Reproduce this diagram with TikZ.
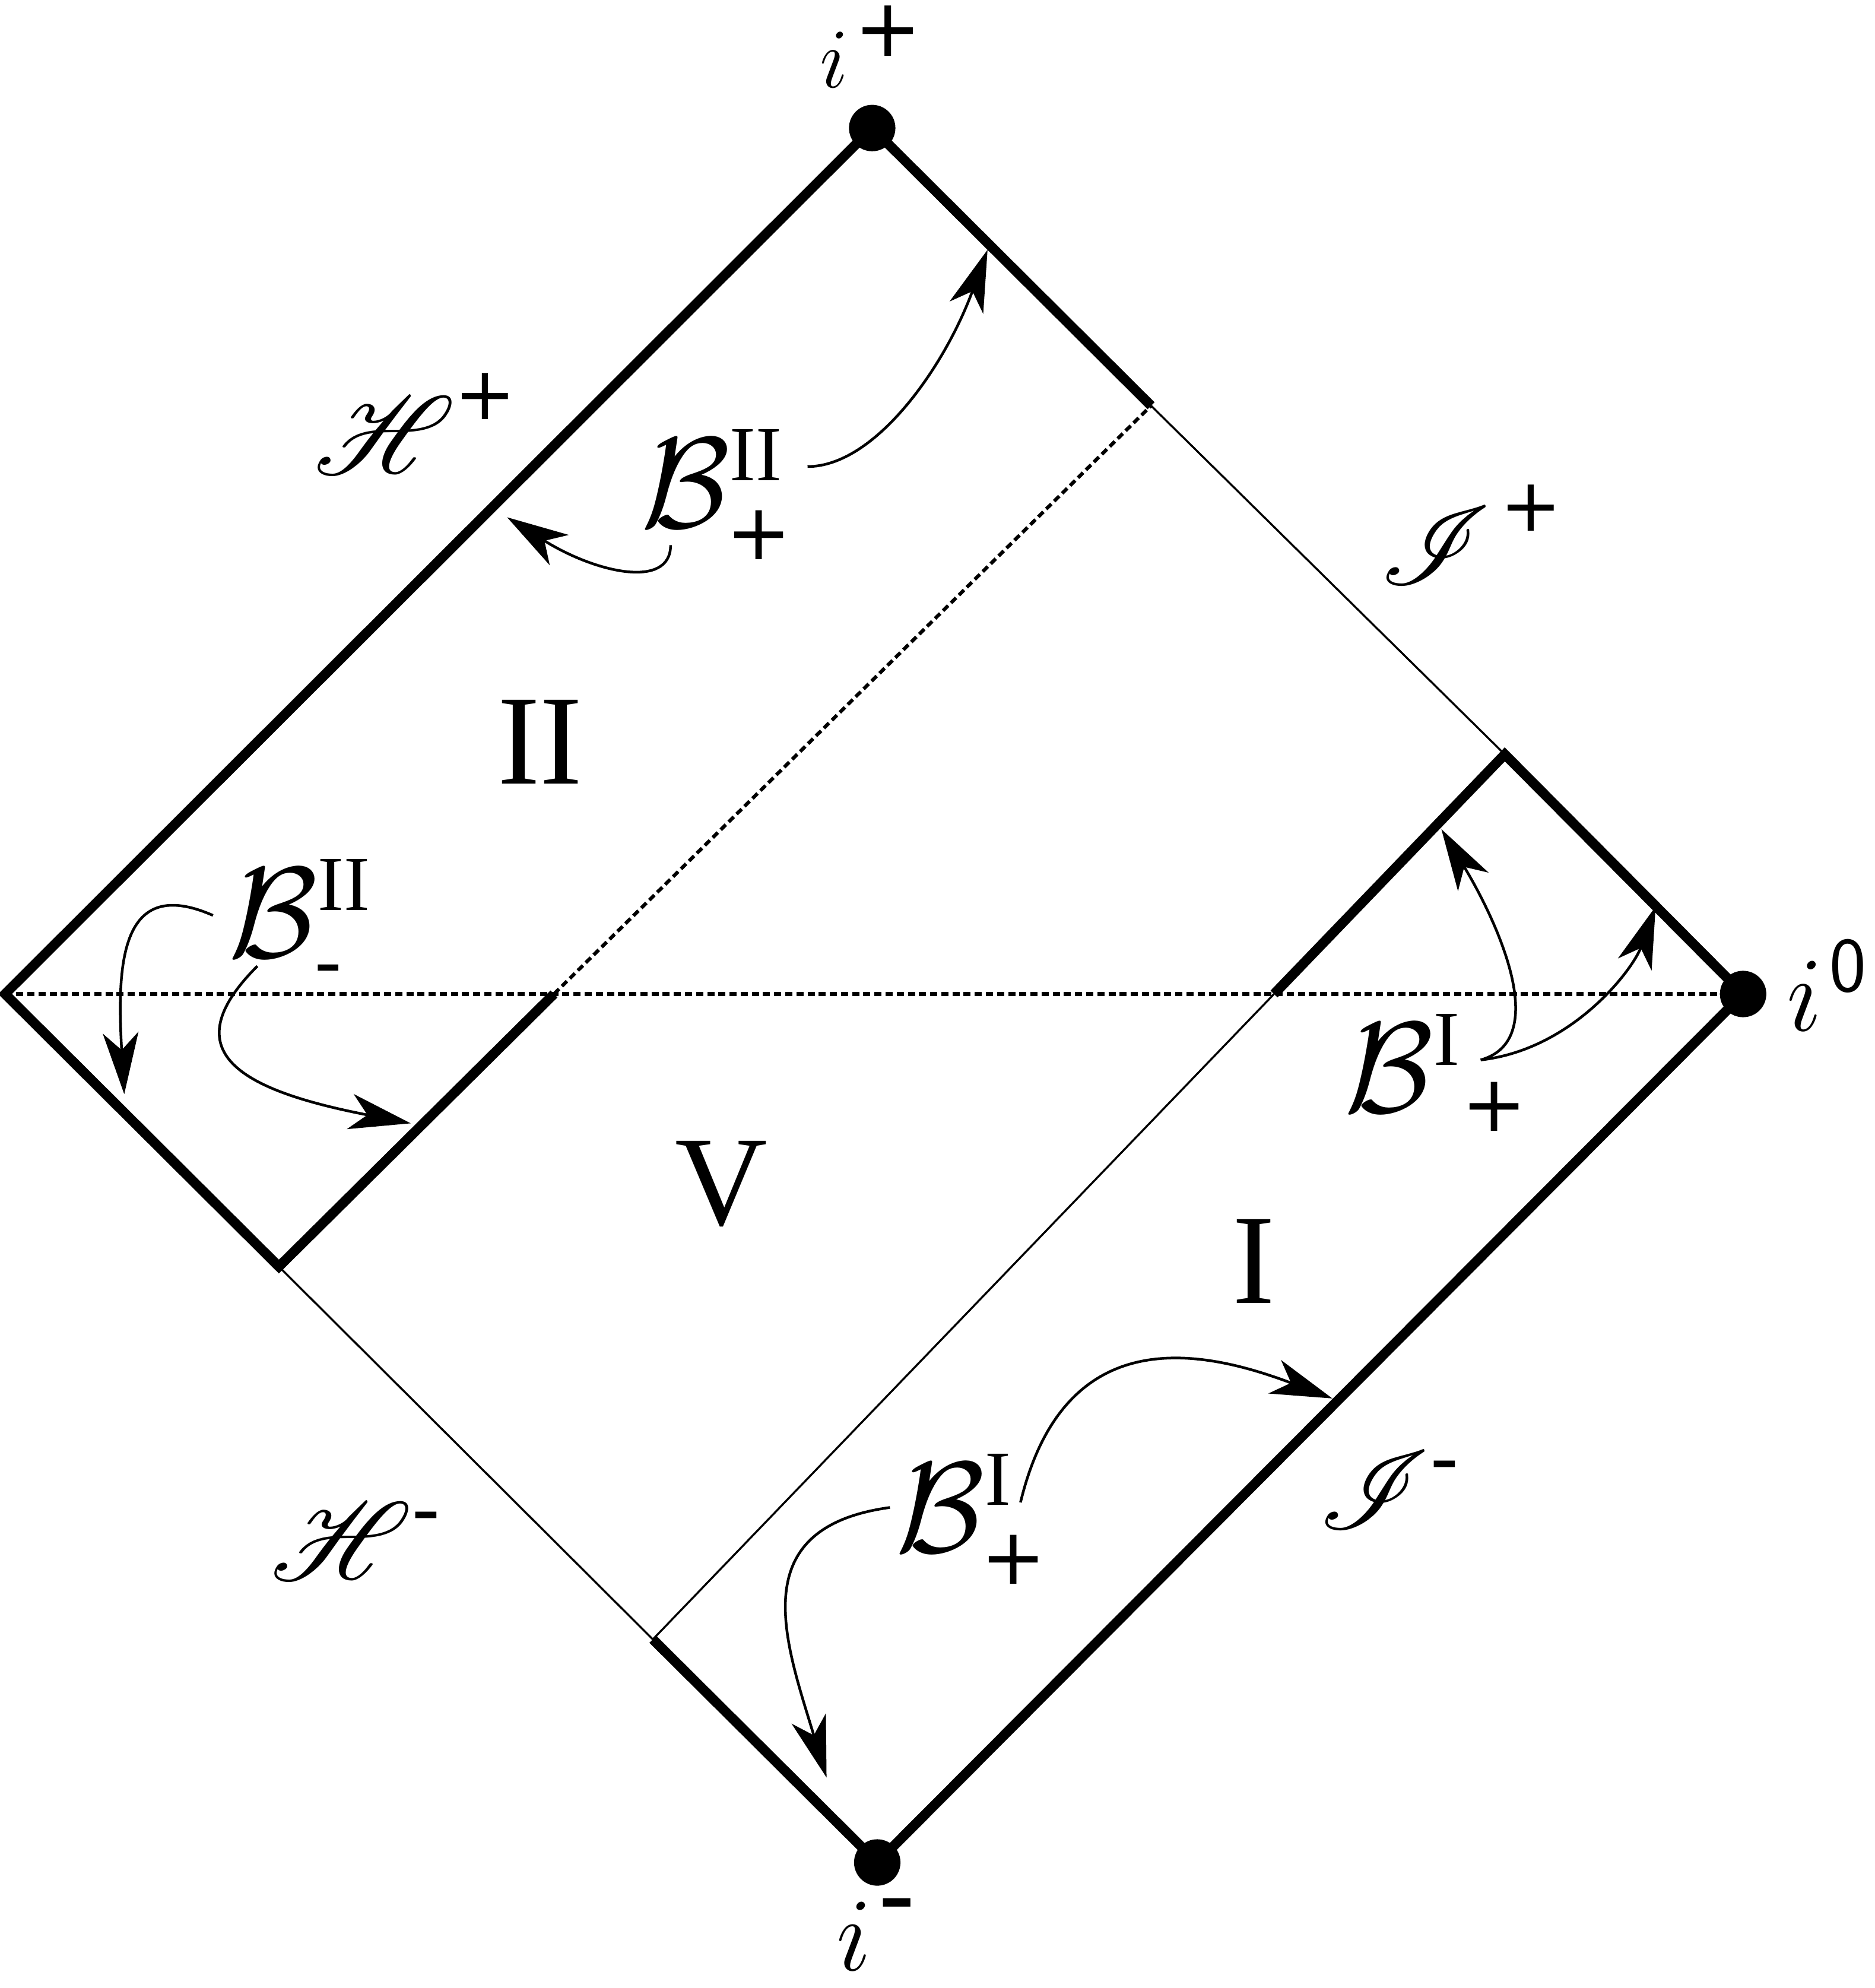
\RequirePackage{fix-cm}
\documentclass[tikz,border=0pt]{standalone}
\usepackage{amsmath}
\usepackage{mathrsfs}
\usepackage{fontspec}
\newfontfamily\romfont{Liberation Serif}
\newfontfamily\signfont{DejaVu Sans}
\usetikzlibrary{arrows.meta}
\DeclareMathSizes{29}{29}{17.5}{14}

\begin{document}
\begin{tikzpicture}[x=0.01cm,y=0.01cm,
  bdry/.style={line width=2.2pt},
  horizon/.style={line width=0.45pt},
  cut/.style={line width=0.8pt,dash pattern=on 1.6pt off 0.9pt},
  pointer/.style={line width=0.6pt,-{Stealth[length=13.8pt,width=8pt,inset=3.9pt]}},
  infdot/.style={fill,radius=0.183cm},
  lbl/.style={inner sep=0pt,anchor=base west},
  blbl/.style={lbl,font=\fontsize{29}{34}\selectfont},
  scrlbl/.style={lbl,font=\fontsize{28}{32}\selectfont},
  region/.style={inner sep=0pt,font=\romfont\fontsize{28.7}{32}\selectfont}]

\useasboundingbox (0,0) rectangle (1479,1568);

% corners of the diagram
\coordinate (top) at (688,1467);
\coordinate (bot) at (692,99);
\coordinate (lft) at (4,784);
\coordinate (rgt) at (1375,784);

% points on the edges
\coordinate (jpa) at (908,1248);
\coordinate (jpb) at (1187,973);
\coordinate (hma) at (220,569);
\coordinate (hmb) at (515,275);
\coordinate (ma) at (437,784);
\coordinate (mb) at (1005,784);

\draw[cut] (lft) -- (rgt);
\draw[cut] (ma) -- (jpa);
\draw[horizon] (jpa) -- (jpb);
\draw[horizon] (mb) -- (hmb);
\draw[horizon] (hma) -- (hmb);
\draw[bdry] (ma) -- (hma) -- (lft) -- (top) -- (jpa);
\draw[bdry] (mb) -- (jpb) -- (rgt) -- (bot) -- (hmb);

\fill[infdot] (top) circle;
\fill[infdot] (rgt) circle;
\fill[infdot] (bot) circle;

% labels
\node[lbl,font=\fontsize{19}{22}\selectfont] (iplus) at (646,1499)
  {$i$\kern1.4pt\raisebox{7.1pt}{\signfont\fontsize{18}{20}\selectfont +}};
\node[lbl,font=\fontsize{23.8}{28}\selectfont] (izero) at (1409,755)
  {$i$\kern1.6pt\raisebox{8.8pt}{\fontsize{17.5}{20}\sffamily\selectfont 0}};
\node[lbl,font=\fontsize{23.4}{28}\selectfont] (iminus) at (659,14)
  {$i$\kern1.5pt\raisebox{8.7pt}{\signfont -}};

\node[scrlbl] (Hplus) at (247,1194)
  {$\mathscr{H}$\raisebox{12.3pt}{\signfont\fontsize{16.5}{20}\selectfont +}};
\node[scrlbl] (Hminus) at (213,322)
  {$\mathscr{H}$\raisebox{9.6pt}{\signfont\fontsize{18}{20}\selectfont -}};
\node[scrlbl] (Jplus) at (1088,1107)
  {$\mathscr{I}$\kern2pt\raisebox{12pt}{\signfont\fontsize{16.5}{20}\selectfont +}};
\node[scrlbl] (Jminus) at (1040,362)
  {$\mathscr{I}$\raisebox{9.6pt}{\signfont\fontsize{18}{20}\selectfont -}};

\node[blbl] (B2p) at (505,1152)
  {$\mathcal{B}^{\text{\romfont II}}_{\text{\signfont +}}$};
\node[blbl] (B2m) at (180,813)
  {$\mathcal{B}^{\text{\romfont II}}_{\text{\signfont -}}$};
\node[blbl] (B1r) at (1060,691)
  {$\mathcal{B}^{\text{\romfont I}}{}_{\text{\signfont +}}$};
\node[blbl] (B1b) at (706,344)
  {$\mathcal{B}^{\text{\romfont I}}_{\text{\signfont +}}$};

\node[region] (regII) at (426,983) {II};
\node[region] (regV) at (569,634) {V};
\node[region] (regI) at (989,573) {I};

% arrows from the labels
\coordinate (a1s) at (637,1200);  \coordinate (a1e) at (779,1371);
\coordinate (a2s) at (529,1138);  \coordinate (a2e) at (400,1160);
\coordinate (a3s) at (168,846);   \coordinate (a3e) at (98,705);
\coordinate (a4s) at (203,806);   \coordinate (a4e) at (324,682);
\coordinate (a5s) at (1168,732);  \coordinate (a5e) at (1137,914);
\coordinate (a6e) at (1306,853);
\coordinate (a7s) at (805,383);   \coordinate (a7e) at (1051,465);
\coordinate (a8s) at (702,379);   \coordinate (a8e) at (652,166);

\draw[pointer] (a1s) .. controls (690,1200) and (745,1278) .. (a1e);
\draw[pointer] (a2s) .. controls (529,1103) and (470,1116) .. (a2e);
\draw[pointer] (a3s) .. controls (95,878) and (92,808) .. (a3e);
\draw[pointer] (a4s) .. controls (135,738) and (190,708) .. (a4e);
\draw[pointer] (a5s) .. controls (1225,748) and (1180,843) .. (a5e);
\draw[pointer] (a5s) .. controls (1240,740) and (1288,803) .. (a6e);
\draw[pointer] (a7s) .. controls (840,528) and (950,503) .. (a7e);
\draw[pointer] (a8s) .. controls (585,363) and (620,272) .. (a8e);

\end{tikzpicture}
\end{document}
